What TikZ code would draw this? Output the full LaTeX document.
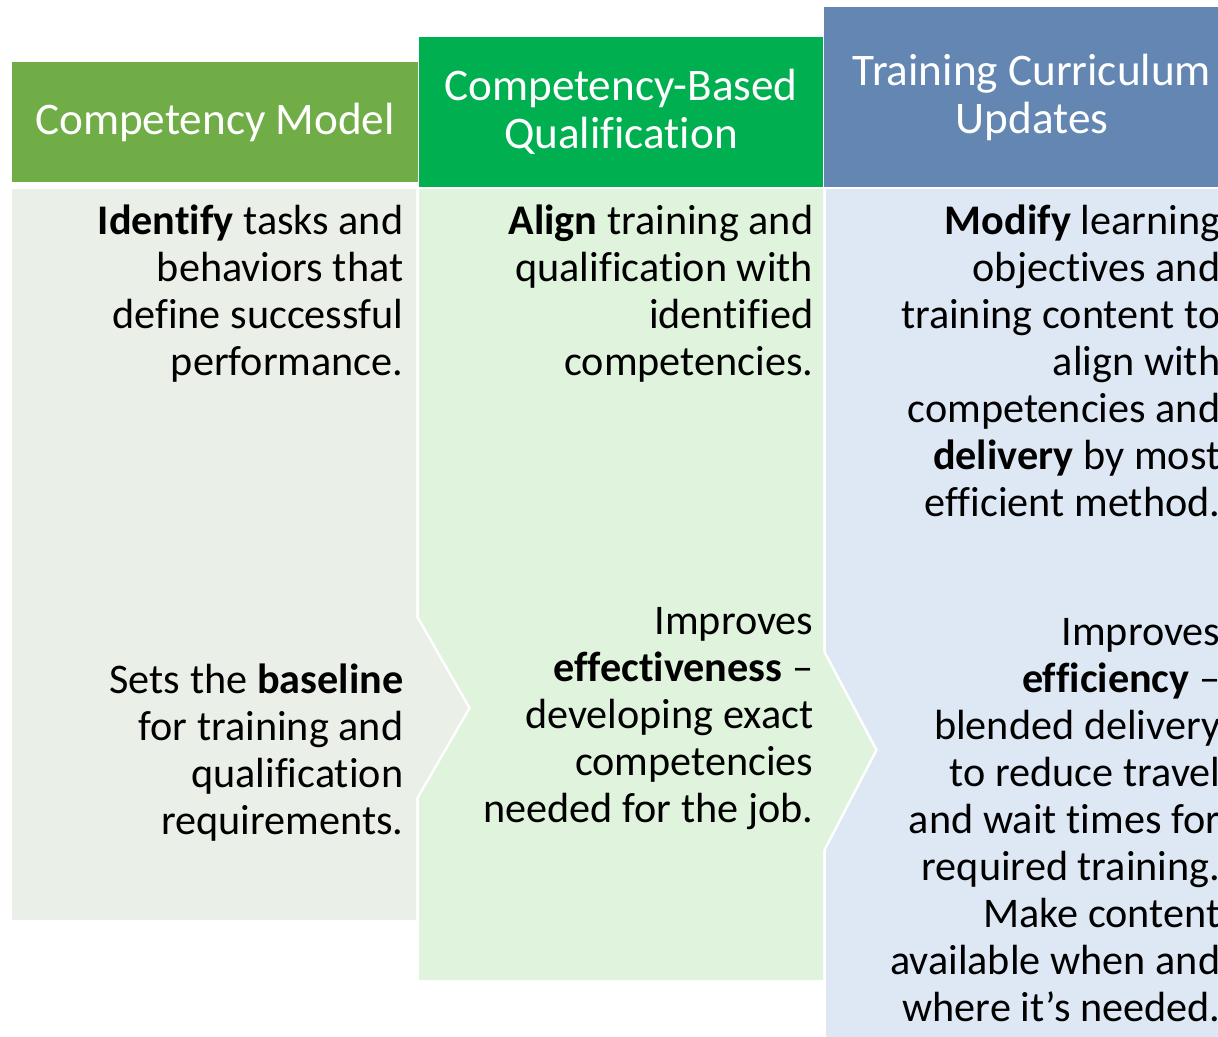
\documentclass[tikz,border=0pt]{standalone}
\usepackage{fontspec}
\setmainfont{Carlito}[Ligatures=NoCommon]
\definecolor{modelgreen}{RGB}{112,173,71}
\definecolor{qualgreen}{RGB}{0,176,80}
\definecolor{currblue}{RGB}{99,135,178}
\definecolor{modelbg}{RGB}{234,239,232}
\definecolor{qualbg}{RGB}{223,243,221}
\definecolor{currbg}{RGB}{221,232,244}
\newcommand{\tightspaces}{\spaceskip=0.23em\relax}

\begin{document}
\begin{tikzpicture}[x=0.01cm, y=-0.01cm,
  headbox/.style={text=white, inner sep=0, align=center, font=\fontsize{12.85}{13.66}\selectfont},
  bodytext/.style={anchor=base east, text width=4cm, align=right, inner sep=0, font=\fontsize{12}{13.37}\selectfont, execute at begin node=\tightspaces}
]
  \useasboundingbox (0,0) rectangle (1218,1036);
  \clip (0,0) rectangle (1218,1036);

  % Chevron panels
  \fill[modelbg] (12,189) -- (416,189) -- (416,617) -- (468,708) -- (416,798) -- (416,920) -- (12,920) -- cycle;
  \fill[qualbg] (419,189) -- (823,189) -- (823,652) -- (875,750) -- (823,850) -- (823,980) -- (419,980) -- (419,798) -- (471,708) -- (419,617) -- cycle;
  \fill[currbg] (826,189) -- (1240,189) -- (1240,1040) -- (826,1040) -- (826,850) -- (878,750) -- (826,652) -- cycle;

  % Headers
  \node[headbox, fill=modelgreen, minimum width=4.06cm, minimum height=1.2cm] (modelhead) at (215,122) {Competency Model};
  \node[headbox, fill=qualgreen, minimum width=4.04cm, minimum height=1.5cm] (qualhead) at (621,112) {Competency-Based\\Qualification};
  \node[headbox, fill=currblue, minimum width=4.15cm, minimum height=1.8cm] (currhead) at (1032,97) {Training Curriculum\\Updates};

  % Left column
  \node[bodytext] (modeltop) at (404,234) {\textbf{Identify} tasks and\\behaviors that\\define successful\\performance.};
  \node[bodytext] (modellow) at (404,693) {Sets the \textbf{baseline}\\for training and\\qualification\\requirements.};

  % Middle column
  \node[bodytext] (qualtop) at (814,234) {\textbf{Align} training and\\qualification with\\identified\\competencies.};
  \node[bodytext] (quallow) at (814,634) {Improves\\\textbf{effectiveness} --\\developing exact\\competencies\\needed for the job.};

  % Right column
  \node[bodytext] (currtop) at (1221,234) {\textbf{Modify} learning\\objectives and\\training content to\\align with\\competencies and\\\textbf{delivery} by most\\efficient method.};
  \node[bodytext] (currlow) at (1221,645) {Improves\\\textbf{efficiency} --\\blended delivery\\to reduce travel\\and wait times for\\required training.\\Make content\\available when and\\where it’s needed.};
\end{tikzpicture}
\end{document}
